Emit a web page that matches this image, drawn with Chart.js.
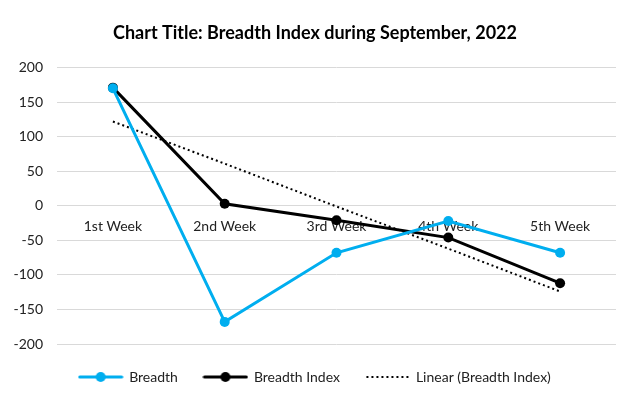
<!DOCTYPE html>
<html>
<head>
<meta charset="utf-8">
<script src="https://cdn.jsdelivr.net/npm/chart.js@4"></script>
<style>
  body { margin: 0; background: #fff; }
  #wrap { width: 632px; height: 402px; }
</style>
</head>
<body>
<div id="wrap"><canvas id="LineChart"></canvas></div>
<script>
const weeks = ["1st Week", "2nd Week", "3rd Week", "4th Week", "5th Week"];
const breadth = [170, -168, -68, -22, -68];
const breadthIndex = [171, 3, -21, -46, -112];
// trendline values
const linearIndex = [122, 61, -1, -62, -124];
const yTicks = [-200, -150, -100, -50, 0, 50, 100, 150, 200];

const blue = "#00aeef";
const font = "Lato, 'Open Sans', sans-serif";

function legendIcon(color, dotted) {
	const c = document.createElement("canvas");
	c.width = 46;
	c.height = 12;
	const g = c.getContext("2d");
	g.strokeStyle = color;
	g.fillStyle = color;
	if (dotted) {
		g.lineWidth = 2;
		g.setLineDash([2, 3]);
		g.beginPath();
		g.moveTo(2, 6);
		g.lineTo(44, 6);
		g.stroke();
	} else {
		g.lineWidth = 3;
		g.lineCap = "round";
		g.beginPath();
		g.moveTo(2, 6);
		g.lineTo(44, 6);
		g.stroke();
		g.beginPath();
		g.arc(23, 6, 5, 0, Math.PI * 2);
		g.fill();
	}
	return c;
}

const ctx = document.getElementById("LineChart");
new Chart(ctx, {
	type: "line",
	data: {
		labels: weeks,
		datasets: [
			{
				label: "Breadth",
				data: breadth,
				borderColor: blue,
				backgroundColor: blue,
				borderWidth: 3,
				pointRadius: 5,
				pointBorderWidth: 0,
				pointHoverRadius: 5,
				icon: legendIcon(blue, false),
			},
			{
				label: "Breadth Index",
				data: breadthIndex,
				borderColor: "#000",
				backgroundColor: "#000",
				borderWidth: 3,
				pointRadius: 5,
				pointBorderWidth: 0,
				pointHoverRadius: 5,
				icon: legendIcon("#000", false),
			},
			{
				label: "Linear (Breadth Index)",
				data: linearIndex,
				borderColor: "#000",
				borderWidth: 2,
				borderDash: [2, 3],
				pointRadius: 0,
				icon: legendIcon("#000", true),
			},
		],
	},
	options: {
		responsive: true,
		maintainAspectRatio: false,
		animation: false,
		layout: {
			padding: { left: 14, right: 16, top: 8, bottom: 8 },
		},
		plugins: {
			title: {
				display: true,
				text: "Chart Title: Breadth Index during September, 2022",
				color: "#000",
				font: { family: font, size: 18, weight: "bold" },
				padding: { top: 14, bottom: 24 },
			},
			legend: {
				position: "bottom",
				labels: {
					usePointStyle: true,
					pointStyleWidth: 43,
					color: "#222",
					font: { family: font, size: 14 },
					padding: 26,
					generateLabels: function (chart) {
						return chart.data.datasets.map(function (ds, i) {
							return {
								text: ds.label,
								pointStyle: ds.icon,
								fillStyle: ds.borderColor,
								strokeStyle: ds.borderColor,
								lineWidth: 0,
								fontColor: "#222",
								datasetIndex: i,
								hidden: false,
							};
						});
					},
				},
			},
			tooltip: { enabled: false },
		},
		scales: {
			x: {
				offset: true,
				position: { y: 0 },
				grid: { display: false },
				border: { display: false },
				ticks: {
					color: "#222",
					padding: 4,
					font: { family: font, size: 14 },
				},
			},
			y: {
				min: -200,
				max: 200,
				afterBuildTicks: function (axis) {
					axis.ticks = yTicks.map(function (v) { return { value: v }; });
				},
				afterFit: function (axis) {
					axis.width = 43;
				},
				grid: { color: "#d9d9d9", lineWidth: 1, drawTicks: false },
				border: { display: false },
				ticks: {
					color: "#222",
					padding: 14,
					font: { family: font, size: 14 },
				},
			},
		},
	},
});
</script>
</body>
</html>
